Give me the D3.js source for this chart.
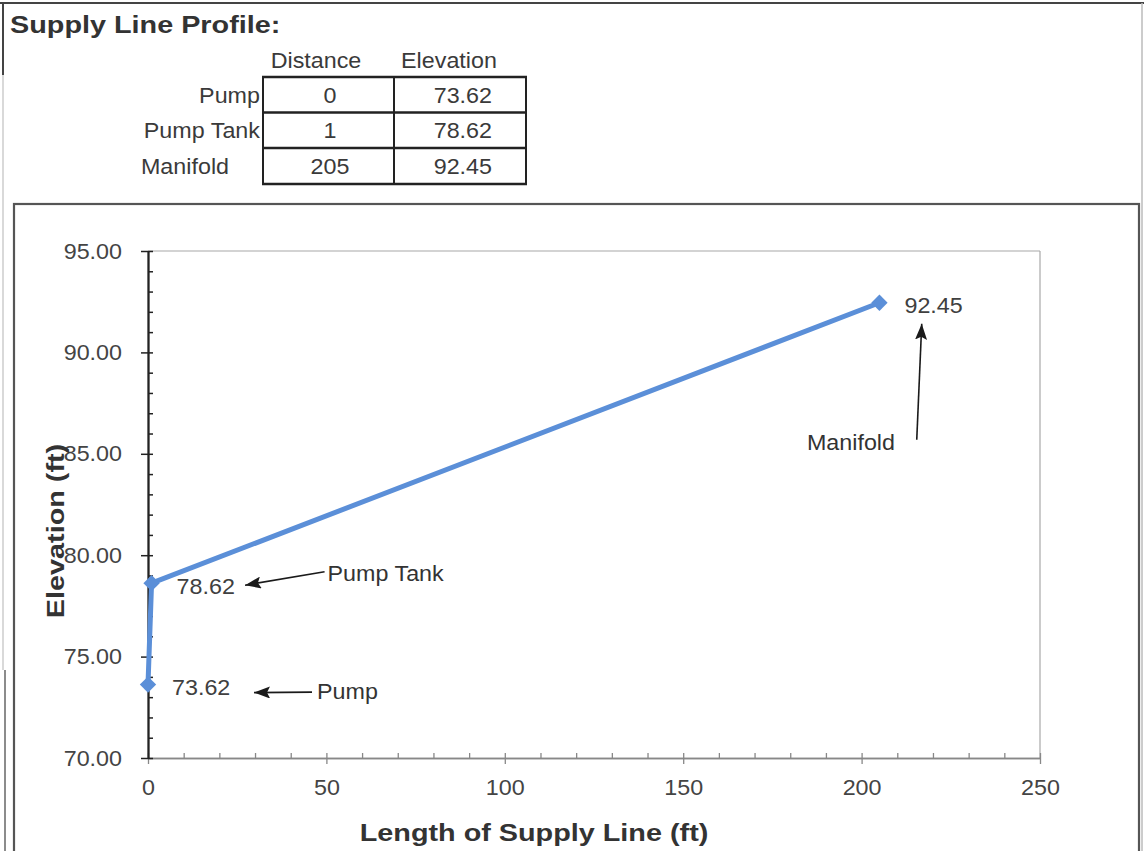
<!DOCTYPE html>
<html>
<head>
<meta charset="utf-8">
<script src="https://cdn.jsdelivr.net/npm/d3@7"></script>
<style>
  html, body { margin: 0; padding: 0; background: #fff; }
  svg { display: block; font-family: Arial, "Liberation Sans", sans-serif; }
</style>
</head>
<body>
<svg id="chart" width="1144" height="851"></svg>
<script>
// ---- data ----
const pointNames = ["Pump", "Pump Tank", "Manifold"];
const distances = [0, 1, 205];
const elevations = [73.62, 78.62, 92.45];
const tableHeaders = ["Distance", "Elevation"];
const xTicks = [0, 50, 100, 150, 200, 250];
const yTicks = [70, 75, 80, 85, 90, 95];
const xMinorTicks = d3.range(0, 251, 10);
const yMinorTicks = d3.range(70, 96, 1);
const title = "Supply Line Profile:";
const xTitle = "Length of Supply Line (ft)";
const yTitle = "Elevation (ft)";

// ---- styles ----
const NORMAL = 22, NSX = 1.06, BOLD = 24, BSX = 1.2;
const textCol = "#3a3a3a";
const lineCol = "#5b8fd8";

const svg = d3.select("#chart");

function txt(parent, x, y, str, o = {}) {
  const g = parent.append("g")
    .attr("transform", `translate(${x},${y})` + (o.rotate ? ` rotate(${o.rotate})` : "") + ` scale(${o.sx || NSX},1)`);
  g.append("text")
    .attr("x", 0).attr("y", 0)
    .attr("dy", o.dy !== undefined ? o.dy : "0.36em")
    .attr("text-anchor", o.anchor || "start")
    .attr("font-size", o.size || NORMAL)
    .attr("font-weight", o.weight || "normal")
    .attr("fill", o.fill || textCol)
    .text(str);
  return g;
}

// ---- page frame ----
svg.append("line").attr("x1", 0).attr("x2", 1144).attr("y1", 3).attr("y2", 3)
  .attr("stroke", "#444").attr("stroke-width", 2);
svg.append("line").attr("x1", 3).attr("x2", 3).attr("y1", 3).attr("y2", 75)
  .attr("stroke", "#444").attr("stroke-width", 2);
svg.append("line").attr("x1", 3).attr("x2", 3).attr("y1", 75).attr("y2", 670)
  .attr("stroke", "#ccc").attr("stroke-width", 1.5);
svg.append("line").attr("x1", 5).attr("x2", 5).attr("y1", 670).attr("y2", 851)
  .attr("stroke", "#666").attr("stroke-width", 1.5);
svg.append("line").attr("x1", 1142).attr("x2", 1142).attr("y1", 3).attr("y2", 851)
  .attr("stroke", "#bbb").attr("stroke-width", 1.5);

// ---- title ----
txt(svg, 10, 24, title, { size: BOLD, weight: "bold", sx: BSX, fill: "#333" });

// ---- table ----
const tbl = { left: 263, mid: 394, right: 526, rows: [77, 112.5, 148, 184] };
const tg = svg.append("g");
tableHeaders.forEach((h, i) => {
  const cx = i === 0 ? 316 : 449;
  txt(tg, cx, 60, h, { anchor: "middle" });
});
tbl.rows.forEach(y => {
  tg.append("line").attr("x1", tbl.left - 1).attr("x2", tbl.right + 1).attr("y1", y).attr("y2", y)
    .attr("stroke", "#222").attr("stroke-width", 2.5);
});
[tbl.left, tbl.mid, tbl.right].forEach(x => {
  tg.append("line").attr("x1", x).attr("x2", x).attr("y1", tbl.rows[0]).attr("y2", tbl.rows[3])
    .attr("stroke", "#222").attr("stroke-width", 2);
});
pointNames.forEach((n, i) => {
  const cy = (tbl.rows[i] + tbl.rows[i + 1]) / 2;
  if (i < 2) txt(tg, 260, cy, n, { anchor: "end" });
  else txt(tg, 185, cy, n, { anchor: "middle" });
  txt(tg, 330, cy, String(distances[i]), { anchor: "middle" });
  txt(tg, 492, cy, d3.format(".2f")(elevations[i]), { anchor: "end" });
});

// ---- chart frame ----
svg.append("rect").attr("x", 14).attr("y", 204).attr("width", 1125).attr("height", 700)
  .attr("fill", "none").attr("stroke", "#555").attr("stroke-width", 2.2);

// ---- scales ----
const x = d3.scaleLinear().domain([0, 250]).range([148, 1040]);
const y = d3.scaleLinear().domain([70, 95]).range([758, 251]);

// plot area border (top / right)
svg.append("line").attr("x1", x(0)).attr("x2", x(250)).attr("y1", y(95)).attr("y2", y(95))
  .attr("stroke", "#a8a8a8").attr("stroke-width", 1.2);
svg.append("line").attr("x1", x(250)).attr("x2", x(250)).attr("y1", y(95)).attr("y2", y(70))
  .attr("stroke", "#a8a8a8").attr("stroke-width", 1.2);

// x axis: minor (inside, upward) + major (cross)
const xMinor = svg.append("g").attr("transform", `translate(0,${y(70)})`)
  .call(d3.axisTop(x).tickValues(xMinorTicks).tickSize(5).tickSizeOuter(0).tickFormat(""));
const xMajor = svg.append("g").attr("transform", `translate(0,${y(70)})`)
  .call(d3.axisBottom(x).tickValues(xTicks).tickSize(6).tickSizeOuter(0).tickPadding(15)
    .tickFormat(d3.format("d")));
[xMinor, xMajor].forEach(g => {
  g.select(".domain").attr("stroke", "#888").attr("stroke-width", 1.5);
  g.selectAll(".tick line").attr("stroke", "#888").attr("stroke-width", 1.3);
});
xMajor.selectAll(".tick text").each(function () {
  const t = d3.select(this);
  const ty = +t.attr("y");
  t.attr("y", 0).attr("dy", "0.71em")
    .attr("transform", `translate(0,${ty}) scale(${NSX},1)`)
    .attr("font-size", NORMAL).attr("fill", "#444").attr("font-family", "Arial, 'Liberation Sans', sans-serif");
});

// y axis: minor (inside, right) + major (cross)
const yMinor = svg.append("g").attr("transform", `translate(${x(0)},0)`)
  .call(d3.axisRight(y).tickValues(yMinorTicks).tickSize(5).tickSizeOuter(0).tickFormat(""));
const yMajor = svg.append("g").attr("transform", `translate(${x(0)},0)`)
  .call(d3.axisLeft(y).tickValues(yTicks).tickSize(7).tickSizeOuter(0).tickPadding(19)
    .tickFormat(d3.format(".2f")));
[yMinor, yMajor].forEach(g => {
  g.select(".domain").attr("stroke", "#222").attr("stroke-width", 1.8);
  g.selectAll(".tick line").attr("stroke", "#222").attr("stroke-width", 1.5);
});
yMajor.selectAll(".tick text").each(function () {
  const t = d3.select(this);
  const tx = +t.attr("x");
  t.attr("x", 0).attr("transform", `translate(${tx},0) scale(${NSX},1)`)
    .attr("font-size", NORMAL).attr("fill", "#444").attr("font-family", "Arial, 'Liberation Sans', sans-serif");
});

// axis titles
txt(svg, (x(0) + x(250)) / 2 - 60, 832, xTitle, { anchor: "middle", size: BOLD, weight: "bold", sx: BSX, fill: "#333" });
txt(svg, 55, 531, yTitle, { anchor: "middle", size: BOLD, weight: "bold", sx: BSX, rotate: -90, fill: "#333" });

// ---- series ----
const pts = distances.map((d, i) => ({ name: pointNames[i], dist: d, elev: elevations[i] }));
svg.append("path").datum(pts)
  .attr("d", d3.line().x(d => x(d.dist)).y(d => y(d.elev)))
  .attr("fill", "none").attr("stroke", lineCol).attr("stroke-width", 5)
  .attr("stroke-linejoin", "round");
svg.selectAll(".marker").data(pts).enter().append("path")
  .attr("class", "marker")
  .attr("transform", d => `translate(${x(d.dist)},${y(d.elev)})`)
  .attr("d", d3.symbol().type(d3.symbolDiamond2).size(170))
  .attr("fill", lineCol);

// data labels
const labelOff = [[24, 2.5], [25, 3], [25, 2]];
pts.forEach((d, i) => {
  txt(svg, x(d.dist) + labelOff[i][0], y(d.elev) + labelOff[i][1], d3.format(".2f")(d.elev), { fill: "#404040" });
});

// ---- annotations with arrows ----
const defs = svg.append("defs");
defs.append("marker").attr("id", "arr").attr("viewBox", "0 0 16 12")
  .attr("refX", 16).attr("refY", 6).attr("markerWidth", 16).attr("markerHeight", 12)
  .attr("markerUnits", "userSpaceOnUse").attr("orient", "auto")
  .append("path").attr("d", "M0,0 L16,6 L0,12 L3,6 Z").attr("fill", "#1a1a1a");

const ann = [
  { text: [169, 6.4, "start"], tail: [164, 7.5], tip: [106, 8] },
  { text: [176, -10.5, "start"], tail: [173, -11.5], tip: [93.5, 2] },
  { text: [-28.5, 139, "middle"], tail: [37.3, 137], tip: [42.3, 21] }
];
pts.forEach((d, i) => {
  const px = x(d.dist), py = y(d.elev), a = ann[i];
  svg.append("line")
    .attr("x1", px + a.tail[0]).attr("y1", py + a.tail[1])
    .attr("x2", px + a.tip[0]).attr("y2", py + a.tip[1])
    .attr("stroke", "#1a1a1a").attr("stroke-width", 1.6)
    .attr("marker-end", "url(#arr)");
  txt(svg, px + a.text[0], py + a.text[1], d.name, { anchor: a.text[2], fill: "#333" });
});
</script>
</body>
</html>
